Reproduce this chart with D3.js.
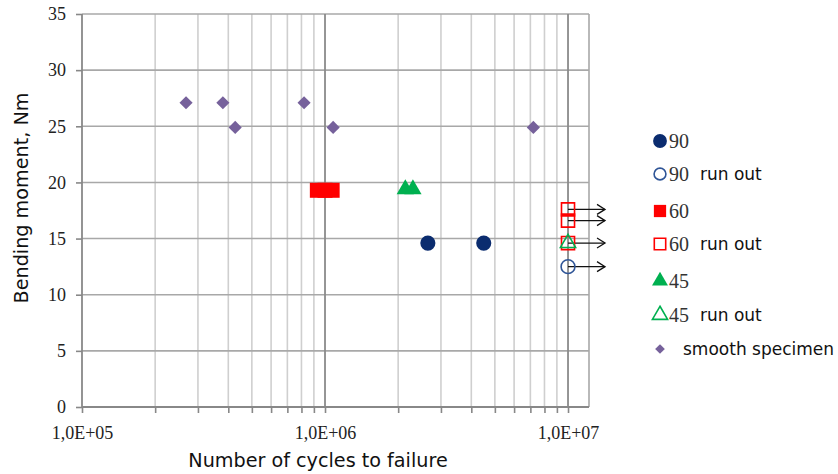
<!DOCTYPE html>
<html>
<head>
<meta charset="utf-8" />
<title>S-N chart</title>
<script type="text/javascript" src="https://d3js.org/d3.v7.min.js"></script>
<style>
  body { margin: 0; background: #fff; }
  .title { font-family: "DejaVu Sans", Verdana, sans-serif; font-size: 19.2px; fill: #111; }
  .leg-num { font-family: "Liberation Serif", serif; font-size: 20px; fill: #333; }
  .leg-txt { font-family: "DejaVu Sans", Verdana, sans-serif; font-size: 17px; fill: #111; }
</style>
</head>
<body>
<script type="text/javascript">
// data: [cycles, moment]
var filled90 = [[2.65e6, 14.6], [4.5e6, 14.6]];
var runout90 = [[1.0e7, 12.5]];
var filled60 = [[9.3e5, 19.3], [1.0e6, 19.3], [1.07e6, 19.3]];
var runout60 = [[1.0e7, 17.6], [1.0e7, 16.6], [1.0e7, 14.6]];
var filled45 = [[2.14e6, 19.4], [2.3e6, 19.4]];
var runout45 = [[1.0e7, 14.6]];
var smooth = [[2.68e5, 27.1], [3.8e5, 27.1], [4.27e5, 24.9], [8.2e5, 27.1], [1.08e6, 24.9], [7.2e6, 24.9]];
var runoutArrows = [17.6, 16.6, 14.6, 12.5];

var yTicks = [0, 5, 10, 15, 20, 25, 30, 35];
var xMajor = [1e5, 1e6, 1e7];
var xMajorLabels = ["1,0E+05", "1,0E+06", "1,0E+07"];
var legendNames = ["90", "90", "60", "60", "45", "45", "smooth specimen"];
var legendExtra = ["", "run out", "", "run out", "", "run out", ""];

var W = 838, H = 474;
var pL = 82, pR = 589, pT = 14, pB = 407;

var svg = d3.select("body").append("svg")
    .attr("width", W).attr("height", H);

var x = d3.scaleLog().domain([1e5, 1.22e7]).range([pL, pR]);
var y = d3.scaleLinear().domain([0, 35]).range([pB, pT]);

// minor values 2..9 per decade
var xMinor = [];
[1e5, 1e6].forEach(function(d) {
    for (var k = 2; k <= 9; k++) xMinor.push(d * k);
});

// grid
svg.append("g").selectAll("line").data(xMinor).enter().append("line")
    .attr("x1", function(d) { return x(d); }).attr("x2", function(d) { return x(d); })
    .attr("y1", pT).attr("y2", pB)
    .attr("stroke", "#cfcfcf").attr("stroke-width", 1.6);
svg.append("g").selectAll("line").data(yTicks).enter().append("line")
    .attr("x1", pL).attr("x2", pR)
    .attr("y1", function(d) { return y(d); }).attr("y2", function(d) { return y(d); })
    .attr("stroke", "#a8a8a8").attr("stroke-width", 1.6);
svg.append("g").selectAll("line").data(xMajor.slice(1)).enter().append("line")
    .attr("x1", function(d) { return x(d); }).attr("x2", function(d) { return x(d); })
    .attr("y1", pT).attr("y2", pB)
    .attr("stroke", "#8a8a8a").attr("stroke-width", 1.8);
// right border
svg.append("line").attr("x1", pR).attr("x2", pR).attr("y1", pT).attr("y2", pB)
    .attr("stroke", "#a8a8a8").attr("stroke-width", 1.6);

// axes
var xAxis = svg.append("g").attr("transform", "translate(0," + pB + ")")
    .call(d3.axisBottom(x).tickValues(xMajor.concat(xMinor)).tickSize(6).tickFormat(function(d) {
        var i = xMajor.indexOf(d); return i >= 0 ? xMajorLabels[i] : "";
    }));
xAxis.selectAll(".tick line").attr("stroke", "#888").attr("stroke-width", 1.6);
xAxis.selectAll(".tick text").attr("class", "tick-label").attr("y", 19).attr("dy", "0.71em");

var yAxis = svg.append("g").attr("transform", "translate(" + pL + ",0)")
    .call(d3.axisLeft(y).tickValues(yTicks).tickSize(6));
yAxis.selectAll(".tick line").attr("stroke", "#888").attr("stroke-width", 1.6);
yAxis.selectAll(".tick text").attr("class", "tick-label").attr("x", -16);
svg.selectAll(".domain").remove();
svg.selectAll("g.tick text").attr("font-size", null).attr("font-family", null).attr("fill", null);
svg.selectAll(".tick-label").style("font-family", "'Liberation Serif', serif").style("font-size", "18px").style("fill", "#222");
svg.append("line").attr("x1", pL).attr("x2", pR).attr("y1", pB).attr("y2", pB).attr("stroke", "#888").attr("stroke-width", 1.8);
svg.append("line").attr("x1", pL).attr("x2", pL).attr("y1", pT).attr("y2", pB).attr("stroke", "#888").attr("stroke-width", 1.8);

// titles
svg.append("text").attr("class", "title").attr("x", 318).attr("y", 467)
    .attr("text-anchor", "middle").text("Number of cycles to failure");
svg.append("text").attr("class", "title").attr("transform", "translate(28,198) rotate(-90)")
    .attr("text-anchor", "middle").text("Bending moment, Nm");

// run-out arrows
var arrowLen = 37;
var ag = svg.append("g");
runoutArrows.forEach(function(v) {
    var x0 = x(1e7), yy = y(v);
    ag.append("line").attr("x1", x0).attr("x2", x0 + arrowLen).attr("y1", yy).attr("y2", yy)
        .attr("stroke", "#111").attr("stroke-width", 1.3);
    ag.append("path").attr("d", "M" + (x0 + arrowLen - 8) + "," + (yy - 5) + "L" + (x0 + arrowLen) + "," + yy + "L" + (x0 + arrowLen - 8) + "," + (yy + 5))
        .attr("fill", "none").attr("stroke", "#111").attr("stroke-width", 1.3);
});

var navy = "#0b2c6f", red = "#ff0000", green = "#00b050", purple = "#76619b", blueOpen = "#2f5597";

function pts(data, type, size, fill, stroke) {
    svg.append("g").selectAll("path").data(data).enter().append("path")
        .attr("transform", function(d) { return "translate(" + x(d[0]) + "," + y(d[1]) + ")"; })
        .attr("d", d3.symbol().type(type).size(size))
        .attr("fill", fill).attr("stroke", stroke).attr("stroke-width", stroke === "none" ? 0 : 1.6);
}

pts(smooth, d3.symbolDiamond2, 110, purple, "none");
pts(filled60, d3.symbolSquare, 225, red, "none");
pts(filled45, d3.symbolTriangle, 130, green, "none");
pts(filled90, d3.symbolCircle, 180, navy, "none");
pts(runout60, d3.symbolSquare, 170, "none", red);
pts(runout45, d3.symbolTriangle, 100, "none", green);
pts(runout90, d3.symbolCircle, 150, "none", blueOpen);

// legend
var legSym = [
    [d3.symbolCircle, 150, navy, "none"],
    [d3.symbolCircle, 110, "none", blueOpen],
    [d3.symbolSquare, 150, red, "none"],
    [d3.symbolSquare, 130, "none", red],
    [d3.symbolTriangle, 110, green, "none"],
    [d3.symbolTriangle, 100, "none", green],
    [d3.symbolDiamond2, 60, purple, "none"]
];
var legY = [141, 174, 211, 244, 281, 315, 349];
var lg = svg.append("g");
legendNames.forEach(function(name, i) {
    var s = legSym[i];
    lg.append("path").attr("transform", "translate(660," + legY[i] + ")")
        .attr("d", d3.symbol().type(s[0]).size(s[1]))
        .attr("fill", s[2]).attr("stroke", s[3]).attr("stroke-width", s[3] === "none" ? 0 : 1.6);
    if (i < 6) {
        lg.append("text").attr("class", "leg-num").attr("x", 669).attr("y", legY[i] + 7).text(name);
        if (legendExtra[i]) lg.append("text").attr("class", "leg-txt").attr("x", 700).attr("y", legY[i] + 6).text(legendExtra[i]);
    } else {
        lg.append("text").attr("class", "leg-txt").attr("x", 683).attr("y", legY[i] + 6).text(name);
    }
});
</script>
</body>
</html>
